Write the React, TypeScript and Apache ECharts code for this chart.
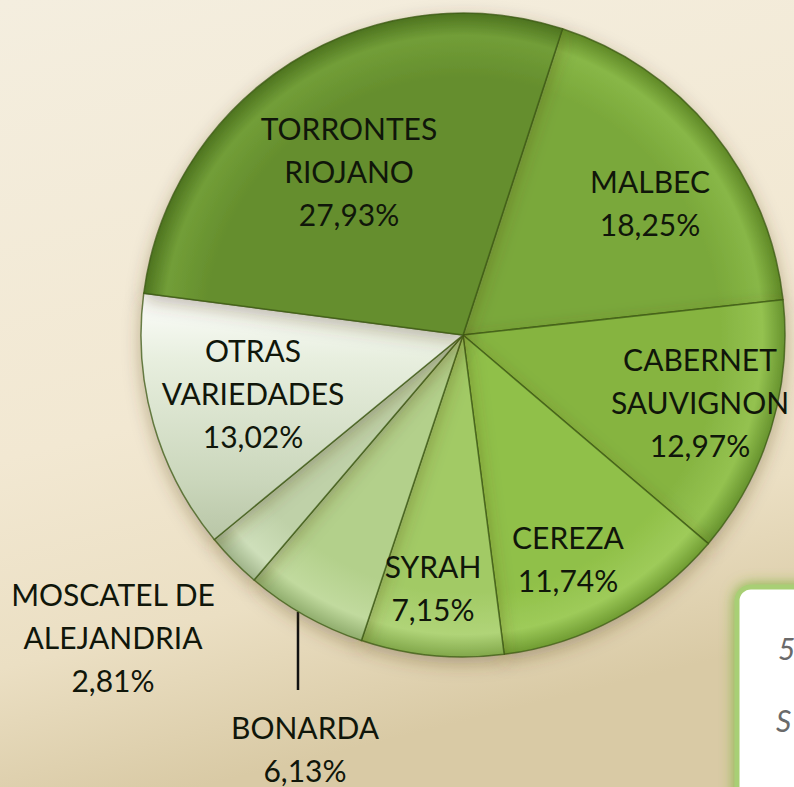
import React, { useEffect, useRef } from "react";
import * as echarts from "echarts";

const categories = [
  "MALBEC",
  "CABERNET\nSAUVIGNON",
  "CEREZA",
  "SYRAH",
  "BONARDA",
  "MOSCATEL DE\nALEJANDRIA",
  "OTRAS\nVARIEDADES",
  "TORRONTES\nRIOJANO",
];
const shares = [18.25, 12.97, 11.74, 7.15, 6.13, 2.81, 13.02, 27.93];

const sliceColors = [
  ["#7aa83a", "#88b747", "#5f8826"],
  ["#86b441", "#94c250", "#67932e"],
  ["#90c048", "#9ecb5a", "#709c32"],
  ["#a2ca65", "#b0d478", "#81a74a"],
  ["#b3d08b", "#c1da9e", "#90ad6d"],
  ["#bfd1a8", "#cedfba", "#9fb389"],
  ["#dbe5ce", "#eef3e6", "#b3c1a2"],
  ["#658e2d", "#729e38", "#4d731f"],
];

const labelX = [650, 700, 568, 433, 305, 113, 253, 349];
const labelY = [202, 402, 558, 587, 748, 637, 393, 171];

const CX = 463;
const CY = 335;
const R = 322;

export default function App() {
  const ref = useRef<HTMLDivElement>(null);
  useEffect(() => {
    document.body.style.margin = "0";
    if (!ref.current) return;
    const chart = echarts.init(ref.current, undefined, { renderer: "svg" });
    const data = categories.map((name, i) => {
      const [base, light, dark] = sliceColors[i];
      const item: any = {
        name,
        value: shares[i],
        itemStyle: {
          color:
            i === 6
              ? {
                  type: "linear",
                  x: 0,
                  y: 290,
                  x2: 0,
                  y2: 560,
                  global: true,
                  colorStops: [
                    { offset: 0, color: "#ffffff" },
                    { offset: 0.25, color: "#e8efdf" },
                    { offset: 0.7, color: "#cbd7bc" },
                    { offset: 1, color: "#b2c09f" },
                  ],
                }
              : {
                  type: "radial",
                  x: CX,
                  y: CY,
                  r: R,
                  global: true,
                  colorStops: [
                    { offset: 0, color: base },
                    { offset: 0.8, color: base },
                    { offset: 0.93, color: light },
                    { offset: 1, color: dark },
                  ],
                },
        },
      };
      if (i === 4) {
        item.label = { position: "outside" };
        item.labelLine = {
          show: true,
          lineStyle: { color: "#111", width: 2.5 },
        };
      }
      return item;
    });
    chart.setOption({
      animation: false,
      backgroundColor: {
        type: "linear",
        x: 0,
        y: 0,
        x2: 0.25,
        y2: 1,
        colorStops: [
          { offset: 0, color: "#f4eedf" },
          { offset: 0.55, color: "#f2e8d2" },
          { offset: 0.8, color: "#ebdfc3" },
          { offset: 1, color: "#d9caa5" },
        ],
      },
      graphic: [
        {
          type: "rect",
          shape: { x: 737, y: 587, width: 90, height: 240, r: 14 },
          style: {
            fill: "#ffffff",
            stroke: "#a8cf74",
            lineWidth: 5,
            shadowBlur: 14,
            shadowColor: "rgba(120,175,50,0.9)",
          },
          z: 10,
        },
        {
          type: "text",
          x: 778,
          y: 648,
          style: {
            text: "5",
            font: "italic 30px Lato",
            fill: "#6a6a6a",
            verticalAlign: "middle",
          },
          z: 11,
        },
        {
          type: "text",
          x: 776,
          y: 720,
          style: {
            text: "S",
            font: "italic 30px Lato",
            fill: "#6a6a6a",
            verticalAlign: "middle",
          },
          z: 11,
        },
      ],
      series: [
        {
          type: "pie",
          center: [CX, CY],
          radius: [0, R],
          startAngle: 72,
          clockwise: true,
          avoidLabelOverlap: false,
          itemStyle: {
            borderColor: "rgba(60,90,20,0.75)",
            borderWidth: 1.5,
            shadowBlur: 18,
            shadowColor: "rgba(80,60,20,0.35)",
            shadowOffsetY: 6,
          },
          label: {
            show: true,
            position: "inside",
            formatter: (p: any) =>
              `${p.name}\n${Number(p.value).toFixed(2).replace(".", ",")}%`,
            fontFamily: "Lato",
            fontSize: 30,
            lineHeight: 43,
            color: "#10160a",
            align: "center",
          },
          labelLine: { show: false },
          emphasis: { disabled: true },
          labelLayout: (p: any) => {
            const i = p.dataIndex;
            const res: any = {
              x: labelX[i],
              y: labelY[i],
              align: "center",
              verticalAlign: "middle",
            };
            if (i === 4) {
              res.labelLinePoints = [
                [298, 612],
                [298, 651],
                [298, 690],
              ];
            }
            return res;
          },
          data,
        },
      ],
    });
    return () => chart.dispose();
  }, []);
  return <div ref={ref} style={{ width: 794, height: 787 }} />;
}
